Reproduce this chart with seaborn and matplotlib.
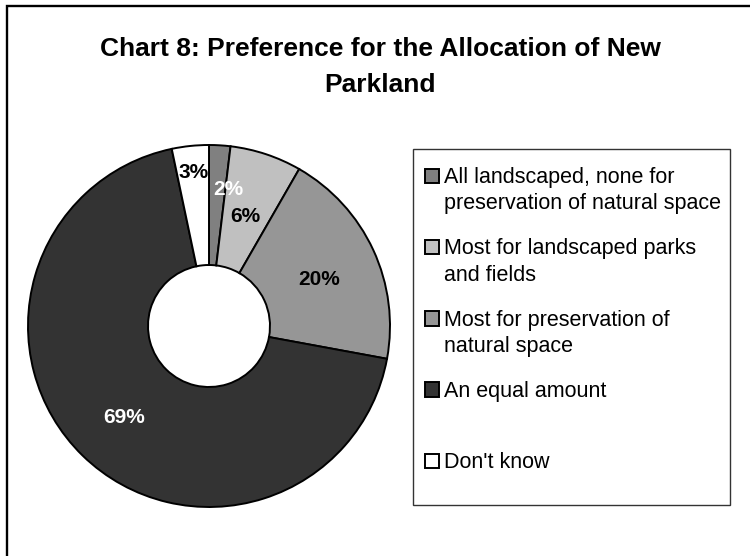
import matplotlib
matplotlib.use("Agg")
import numpy as np
import matplotlib.pyplot as plt
import seaborn as sns
from matplotlib.patches import Rectangle

# ---- data ----
categories = [
    "All landscaped, none for\npreservation of natural space",
    "Most for landscaped parks\nand fields",
    "Most for preservation of\nnatural space",
    "An equal amount",
    "Don't know",
]
shares = [1.9, 6.4, 19.6, 68.8, 3.3]
title_lines = ["Chart 8: Preference for the Allocation of New", "Parkland"]

# ---- style ----
slice_colors = ["#808080", "#c0c0c0", "#969696", "#333333", "#ffffff"]
label_colors = ["white", "black", "black", "white", "black"]
label_r = [0.76, 0.64, 0.66, 0.69, 0.85]
label_dtheta = [-4.7, 0.0, -1.8, 1.6, 0.0]

sns.set_theme(style="white")
plt.rcParams["font.family"] = ["Liberation Sans", "DejaVu Sans"]
plt.rcParams["text.color"] = "black"

W, H = 750, 556
fig = plt.figure(figsize=(W / 100, H / 100), dpi=100)
fig.patch.set_facecolor("white")


def fx(px):
    return px / W


def fy(py):
    return 1 - py / H


# outer chart border (only top and left edges fall inside the image)
fig.patches.append(Rectangle((fx(7), fy(620)), fx(820) - fx(7), fy(6) - fy(620),
                             transform=fig.transFigure, fill=False,
                             edgecolor="black", linewidth=1.7))

# title
fig.text(fx(380), fy(56), title_lines[0], ha="center", va="baseline",
         fontsize=19, fontweight="bold", color="black")
fig.text(fx(380), fy(92), title_lines[1], ha="center", va="baseline",
         fontsize=19, fontweight="bold", color="black")

# donut
cx, cy, R = 209, 326, 181
ax = fig.add_axes([fx(cx - R), fy(cy + R), 2 * R / W, 2 * R / H])
wedges, _ = ax.pie(shares, colors=slice_colors, startangle=90, counterclock=False,
                   radius=1.0,
                   wedgeprops=dict(width=0.663, edgecolor="black", linewidth=1.4))
for w in wedges:
    w.set_clip_on(False)
ax.set_xlim(-1, 1)
ax.set_ylim(-1, 1)
ax.set_aspect("equal")
ax.axis("off")

for i, w in enumerate(wedges):
    th = np.deg2rad((w.theta1 + w.theta2) / 2 + label_dtheta[i])
    r = label_r[i]
    ax.text(r * np.cos(th), r * np.sin(th), f"{shares[i]:.0f}%",
            ha="center", va="center", fontsize=15, fontweight="bold",
            color=label_colors[i])

# legend (drawn box)
fig.patches.append(Rectangle((fx(413), fy(505)), fx(730) - fx(413), fy(149) - fy(505),
                             transform=fig.transFigure, fill=False,
                             edgecolor="#333333", linewidth=1.0))
first_base = 183
step = 71.3
line_gap = 26.5
for i, lab in enumerate(categories):
    yb = first_base + i * step
    fig.patches.append(Rectangle((fx(425), fy(yb)), fx(439) - fx(425), fy(yb - 14.5) - fy(yb),
                                 transform=fig.transFigure, facecolor=slice_colors[i],
                                 edgecolor="black", linewidth=1.4))
    for j, line in enumerate(lab.split("\n")):
        fig.text(fx(444), fy(yb + j * line_gap), line, ha="left", va="baseline",
                 fontsize=15.5, color="black")

fig.savefig("out.png", dpi=100, facecolor="white")
